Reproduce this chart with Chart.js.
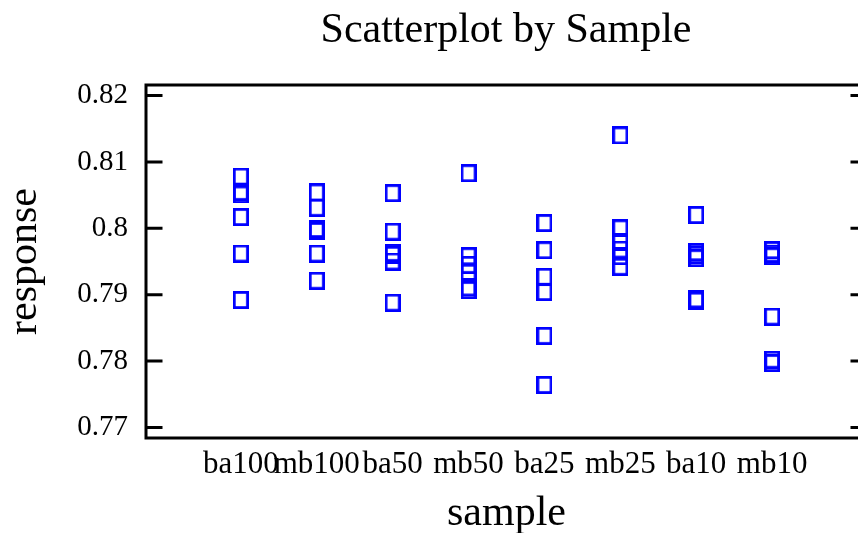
<!DOCTYPE html>
<html>
<head>
<meta charset="utf-8">
<title>Scatterplot by Sample</title>
<script src="https://cdn.jsdelivr.net/npm/chart.js@4"></script>
<style>
  html, body { margin: 0; padding: 0; background: #fff; overflow: hidden; }
  #wrap { width: 858px; height: 533px; overflow: hidden; }
</style>
</head>
<body>
<div id="wrap"><canvas id="scatter" width="1012" height="533"></canvas></div>
<script>
// categories on the x axis
const categories = ["ba100", "mb100", "ba50", "mb50", "ba25", "mb25", "ba10", "mb10"];

// response values per sample
const ba100 = [0.8078, 0.8055, 0.8051, 0.8017, 0.7962, 0.7892];
const mb100 = [0.8054, 0.8031, 0.7999, 0.7996, 0.7962, 0.7921];
const ba50 = [0.8053, 0.7995, 0.7963, 0.7960, 0.7950, 0.7888];
const mb50 = [0.8083, 0.7958, 0.7945, 0.7933, 0.7911, 0.7907];
const ba25 = [0.8008, 0.7967, 0.7927, 0.7904, 0.7838, 0.7764];
const mb25 = [0.8140, 0.8000, 0.7979, 0.7968, 0.7958, 0.7942];
const ba10 = [0.8020, 0.7964, 0.7960, 0.7955, 0.7893, 0.7891];
const mb10 = [0.7967, 0.7962, 0.7958, 0.7867, 0.7802, 0.7797];

// y axis tick labels
const yTicks = [0.77, 0.78, 0.79, 0.8, 0.81, 0.82];

const samples = [ba100, mb100, ba50, mb50, ba25, mb25, ba10, mb10];
const points = [];
samples.forEach(function (vals, i) {
  vals.forEach(function (v) {
    points.push({ x: i, y: v });
  });
});

const serif = "'Liberation Serif', 'Times New Roman', serif";

// hollow blue box marker
const marker = document.createElement("canvas");
marker.width = 16;
marker.height = 18;
const mctx = marker.getContext("2d");
mctx.strokeStyle = "#0000ff";
mctx.lineWidth = 2.8;
mctx.strokeRect(1.4, 1.4, 13.2, 15.2);

// frame with inward ticks on both sides
const framePlugin = {
  id: "frame",
  afterDraw: function (chart) {
    const ctx = chart.ctx;
    const a = chart.chartArea;
    const ys = chart.scales.y;
    ctx.save();
    ctx.strokeStyle = "#000";
    ctx.lineWidth = 3;
    ctx.lineCap = "square";
    ctx.beginPath();
    ctx.moveTo(a.left, a.top);
    ctx.lineTo(a.right, a.top);
    ctx.lineTo(a.right, a.bottom);
    ctx.lineTo(a.left, a.bottom);
    ctx.closePath();
    ys.ticks.forEach(function (t) {
      const y = ys.getPixelForValue(t.value);
      ctx.moveTo(a.left, y);
      ctx.lineTo(a.left + 15, y);
      ctx.moveTo(a.right - 15, y);
      ctx.lineTo(a.right, y);
    });
    ctx.stroke();
    ctx.restore();
  },
};

new Chart(document.getElementById("scatter"), {
  type: "scatter",
  data: {
    datasets: [
      {
        label: "response",
        data: points,
        pointStyle: marker,
        pointRadius: 8,
      },
    ],
  },
  options: {
    responsive: false,
    animation: false,
    events: [],
    layout: { padding: 0 },
    plugins: {
      legend: { display: false },
      tooltip: { enabled: false },
      title: {
        display: true,
        text: "Scatterplot by Sample",
        color: "#000",
        font: { family: serif, size: 42, weight: "normal", lineHeight: 1.2 },
        padding: { top: 6, bottom: 28.6 },
      },
    },
    scales: {
      x: {
        type: "linear",
        min: -1.25,
        max: 8.25,
        afterBuildTicks: function (s) {
          s.ticks = categories.map(function (c, i) { return { value: i }; });
        },
        afterFit: function (s) { s.height = 95; },
        grid: { display: false },
        border: { display: false },
        ticks: {
          color: "#000",
          font: { family: serif, size: 31 },
          padding: 0,
          autoSkip: false,
          minRotation: 0,
          maxRotation: 0,
          callback: function (v) { return categories[v]; },
        },
        title: {
          display: true,
          text: "sample",
          color: "#000",
          font: { family: serif, size: 42, lineHeight: 0.8 },
          padding: { top: 0, bottom: 2 },
        },
      },
      y: {
        type: "linear",
        min: 0.7684,
        max: 0.8216,
        afterBuildTicks: function (s) {
          s.ticks = yTicks.map(function (v) { return { value: v }; });
        },
        afterFit: function (s) { s.width = 146; },
        grid: { display: false },
        border: { display: false },
        ticks: {
          color: "#000",
          font: { family: serif, size: 29 },
          padding: 10,
          callback: function (v) { return String(+v.toFixed(2)); },
        },
        title: {
          display: true,
          text: "response",
          color: "#000",
          font: { family: serif, size: 42 },
          padding: { top: 0, bottom: 0 },
        },
      },
      // empty right-hand axis so the plot frame runs past the visible edge
      y2: {
        position: "right",
        display: true,
        afterFit: function (s) { s.width = 145; },
        grid: { display: false },
        border: { display: false },
        ticks: { display: false },
      },
    },
  },
  plugins: [framePlugin],
});
</script>
</body>
</html>
